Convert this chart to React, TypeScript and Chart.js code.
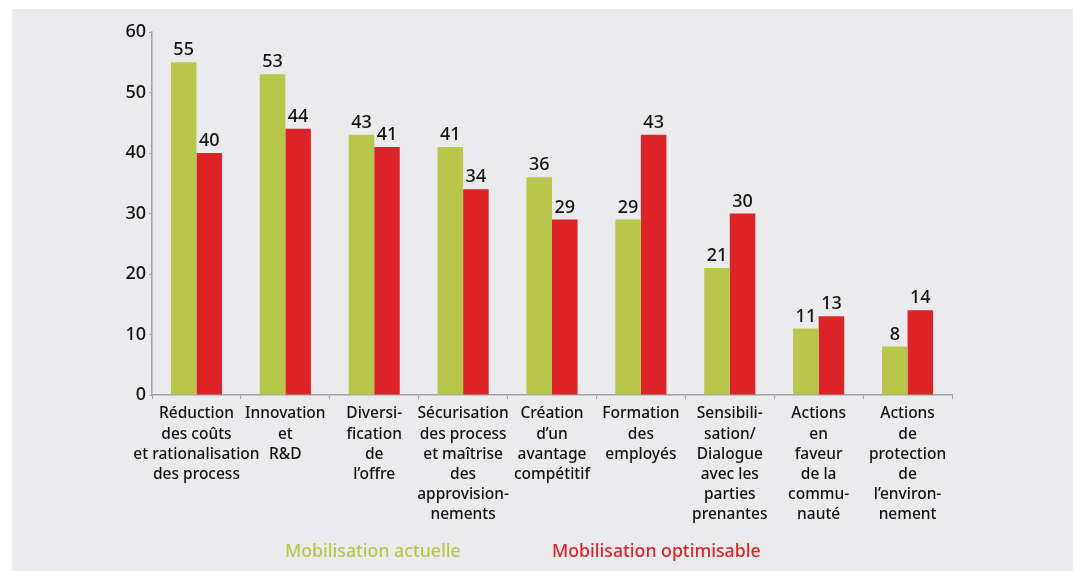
import React, { useEffect, useRef } from "react";
import { Chart, registerables } from "chart.js";

Chart.register(...registerables);

const categories: string[][] = [
  ["Réduction", "des coûts", "et rationalisation", "des process"],
  ["Innovation", "et", "R&D"],
  ["Diversi-", "fication", "de", "l’offre"],
  ["Sécurisation", "des process", "et maîtrise", "des", "approvision-", "nements"],
  ["Création", "d’un", "avantage", "compétitif"],
  ["Formation", "des", "employés"],
  ["Sensibili-", "sation/", "Dialogue", "avec les", "parties", "prenantes"],
  ["Actions", "en", "faveur", "de la", "commu-", "nauté"],
  ["Actions", "de", "protection", "de", "l’environ-", "nement"],
];

const seriesNames = ["Mobilisation actuelle", "Mobilisation optimisable"];
const actuelle = [55, 53, 43, 41, 36, 29, 21, 11, 8];
const optimisable = [40, 44, 41, 34, 29, 43, 30, 13, 14];
const yTicks = [0, 10, 20, 30, 40, 50, 60];

const GREEN = "#b9c64c";
const RED = "#dc2328";
const BG = "#ebebed";
const AXIS = "#a3a3a6";
const FONT = "'Noto Sans', sans-serif";

const valueLabels = {
  id: "valueLabels",
  afterDatasetsDraw(chart: any) {
    const ctx = chart.ctx;
    ctx.save();
    ctx.font = `500 18px ${FONT}`;
    ctx.fillStyle = "#111111";
    ctx.textAlign = "center";
    ctx.textBaseline = "bottom";
    chart.data.datasets.forEach((ds: any, i: number) => {
      const meta = chart.getDatasetMeta(i);
      meta.data.forEach((bar: any, j: number) => {
        ctx.fillText(String(ds.data[j]), bar.x, bar.y - 3);
      });
    });
    ctx.restore();
  },
};

const textLegend = {
  id: "textLegend",
  afterDraw(chart: any) {
    const ctx = chart.ctx;
    ctx.save();
    ctx.font = `500 17.7px ${FONT}`;
    ctx.textAlign = "left";
    ctx.textBaseline = "middle";
    const xs = [273, 540];
    const y = 543;
    chart.data.datasets.forEach((ds: any, i: number) => {
      ctx.fillStyle = ds.backgroundColor;
      ctx.fillText(ds.label, xs[i], y);
    });
    ctx.restore();
  },
};

export default function App() {
  const ref = useRef<HTMLCanvasElement | null>(null);
  useEffect(() => {
    if (!ref.current) return;
    const chart = new Chart(ref.current, {
      type: "bar",
      data: {
        labels: categories,
        datasets: [
          { label: seriesNames[0], data: actuelle, backgroundColor: GREEN, borderWidth: 0 },
          { label: seriesNames[1], data: optimisable, backgroundColor: RED, borderWidth: 0 },
        ],
      },
      options: {
        animation: false,
        responsive: true,
        maintainAspectRatio: false,
        layout: { padding: { top: 23, right: 121, bottom: 0, left: 0 } },
        datasets: { bar: { barPercentage: 1, categoryPercentage: 0.575 } },
        plugins: { legend: { display: false }, tooltip: { enabled: false } },
        scales: {
          x: {
            grid: { display: true, drawOnChartArea: false, tickLength: 4, color: AXIS, offset: true },
            border: { display: true, color: AXIS, width: 1.5 },
            ticks: {
              color: "#111111",
              font: { family: FONT, size: 15.5, weight: "500", lineHeight: 1.3 },
              padding: 5,
              maxRotation: 0,
              autoSkip: false,
            },
            afterFit: (s: any) => { s.height = 176; },
          },
          y: {
            min: 0,
            max: 60,
            afterBuildTicks: (s: any) => { s.ticks = yTicks.map((v) => ({ value: v })); },
            grid: { display: true, drawOnChartArea: false, tickLength: 3, color: AXIS },
            border: { display: true, color: AXIS, width: 1.5 },
            ticks: { color: "#111111", font: { family: FONT, size: 18, weight: "500" }, padding: 3 },
            afterFit: (s: any) => { s.width = 140; },
          },
        },
      },
      plugins: [valueLabels, textLegend],
    });
    return () => chart.destroy();
  }, []);
  return (
    <div style={{ position: "absolute", left: 12, top: 9, width: 1061, height: 562, background: BG }}>
      <canvas ref={ref} />
    </div>
  );
}
